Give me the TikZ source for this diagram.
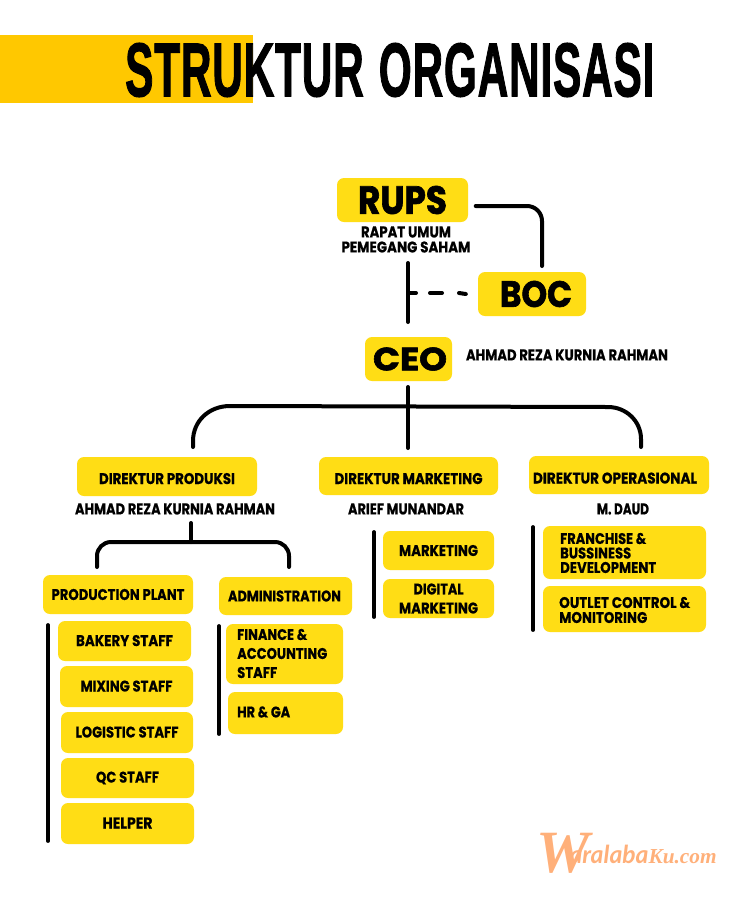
\documentclass[tikz,border=0pt]{standalone}
\usepackage{fontspec}
\setmainfont{Poppins}[BoldFont={Poppins Bold},BoldFeatures={FakeBold=0.5}]
\newfontfamily\heavyfont{Poppins}[BoldFont={Poppins Bold},BoldFeatures={FakeBold=1.8}]
\newfontfamily\titlefont{Liberation Sans}[BoldFont={Liberation Sans Bold},BoldFeatures={FakeBold=1.8}]
\newfontfamily\wmfont{Liberation Serif}
\newfontfamily\wmsans{Lato}
\definecolor{boxy}{HTML}{FFDD15}
\definecolor{bary}{HTML}{FFC800}
\definecolor{peach}{HTML}{FFB07A}
\newcommand\fitt[3]{\resizebox{#1pt}{#2pt}{\bfseries #3}}
\newcommand\fitb[3]{\resizebox{#1pt}{#2pt}{\heavyfont\bfseries #3}}
\newcommand\lowr[2]{\raisebox{-#1pt}[11pt][0pt]{#2}}
\tikzset{
  box/.style={fill=boxy,rounded corners=7pt,inner sep=0pt,text=black},
  label/.style={inner sep=0pt,text=black},
  wire/.style={line width=4pt,line cap=round,black},
  pipe/.style={line width=3.8pt,line cap=round,black},
}
\newcommand\boxat[6]{% name, x0,y0,x1,y1, text
  \node[box,minimum width={(#4-#2)*1pt},minimum height={(#5-#3)*1pt}] (#1) at ({(#2+#4)/2},{(#3+#5)/2}) {#6};}
\begin{document}
\begin{tikzpicture}[x=1pt,y=-1pt]
\useasboundingbox (0,0) rectangle (750,903);
\fill[white] (0,0) rectangle (750,903);
% title
\fill[bary] (0,35) rectangle (253,103);
\node[label,anchor=west] (title) at (125,70) {\resizebox{529pt}{53pt}{\titlefont\bfseries S\kern.02em T\kern.02em R\kern.02em U\kern.02em K\kern.02em T\kern.02em U\kern.02em R\kern.08em\ O\kern.02em R\kern.02em G\kern.02em A\kern.02em N\kern.02em I\kern.02em S\kern.02em A\kern.02em S\kern.02em I}};
% top
\boxat{rups}{337}{178}{468}{222}{\fitb{89}{28}{RUPS}}
\node[label,align=center,font=\fontsize{10}{15}\selectfont] (rupsname) at (406,239.5) {\fitt{90}{11}{RAPAT UMUM}\\\fitt{129}{11}{PEMEGANG SAHAM}};
\boxat{boc}{478}{272}{586}{316}{\hspace*{8pt}\fitb{72}{26}{BOC}}
\boxat{ceo}{365}{337}{452}{381}{\hspace*{3pt}\fitb{74}{23}{CEO}}
\node[label] (ceoname) at (567,355) {\fitt{202}{11}{AHMAD REZA KURNIA RAHMAN}};
% connectors top
\coordinate (rupsr) at ([xshift=7.5pt]rups.east |- 0,206);
\coordinate (bocup) at (542,266);
\coordinate (spineT) at (408,263);
\coordinate (spineB) at (408,322);
\coordinate (spineM) at (408,293);
\coordinate (bocl) at ([xshift=-12pt]boc.west);
\draw[wire,rounded corners=15pt] (rupsr) -- (542,206) -- (bocup);
\draw[wire] (spineT) -- (spineB);
\draw[wire] (spineM) -- (416,293);
\draw[wire] (430,293) -- (442,293);
\draw[wire] (459,293) -- (bocl);
% directors
\boxat{dp}{77}{457}{257}{496}{\lowr{2}{\fitt{136}{11}{DIREKTUR PRODUKSI}}}
\boxat{dm}{319}{457}{498}{495}{\lowr{2.5}{\fitt{148}{11}{DIREKTUR MARKETING}}}
\boxat{dop}{529}{456}{709}{494}{\hspace*{-8pt}\lowr{3}{\fitt{164}{11}{DIREKTUR OPERASIONAL}}}
\node[label] (dpn) at (175,509) {\fitt{200}{11}{AHMAD REZA KURNIA RAHMAN}};
\node[label] (dmn) at (406,509) {\fitt{116}{11}{ARIEF MUNANDAR}};
\node[label] (dopn) at (623,509) {\fitt{52}{11}{M. DAUD}};
% CEO tree
\coordinate (ceod) at (408,387);
\coordinate (dmu) at (408,448);
\coordinate (dpu) at (193,447);
\coordinate (dopu) at (641,447);
\draw[wire] (ceod) -- (dmu);
\draw[wire] (dpu) -- (193,441) .. controls (193,421) and (209,406) .. (230,406) -- (608,407) .. controls (626,407) and (641,421) .. (641,439) -- (dopu);
% production tree
\coordinate (dpd) at (191,523);
\coordinate (pj) at (191,542);
\coordinate (ppu) at (97,567);
\coordinate (adu) at (289,567);
\draw[wire] (dpd) -- (pj);
\draw[wire,rounded corners=14pt] (ppu) -- (97,542) -- (289,542) -- (adu);
\boxat{pp}{43}{575}{193}{614}{\fitt{133}{11}{PRODUCTION PLANT}}
\boxat{ad}{219}{577}{352}{615}{\hspace*{-2pt}\fitt{113}{11}{ADMINISTRATION}}
% production staff
\coordinate (pb1) at (48,625);
\coordinate (pb2) at (48,841);
\draw[pipe] (pb1) -- (pb2);
\boxat{s1}{58}{621}{191}{661}{\lowr{-0.5}{\fitt{97}{11}{BAKERY STAFF}}}
\boxat{s2}{60}{666}{193}{707}{\lowr{-0.5}{\fitt{92}{11}{MIXING STAFF}}}
\boxat{s3}{61}{712}{193}{753}{\lowr{-0.5}{\fitt{103}{11}{LOGISTIC STAFF}}}
\boxat{s4}{61}{758}{194}{798}{\fitt{63}{11}{QC STAFF}}
\boxat{s5}{61}{803}{194}{844}{\lowr{-0.5}{\fitt{50}{11}{HELPER}}}
% admin
\coordinate (ab1) at (219,626);
\coordinate (ab2) at (219,734);
\draw[pipe] (ab1) -- (ab2);
\boxat{f1}{226}{624}{343}{684}{}
\node[label,anchor=west,align=left,font=\fontsize{10}{19}\selectfont] (f1t) at (237,653.5) {\fitt{70}{11}{FINANCE \&}\\\fitt{90}{11}{ACCOUNTING}\\\fitt{40}{11}{STAFF}};
\boxat{f2}{228}{692}{343}{734}{}
\node[label,anchor=west] (f2t) at (237,712) {\fitt{53}{11}{HR \& GA}};
% marketing
\coordinate (mb1) at (374,532);
\coordinate (mb2) at (374,617);
\draw[pipe] (mb1) -- (mb2);
\boxat{m1}{383}{531}{494}{570}{\fitt{79}{11}{MARKETING}}
\boxat{m2}{383}{579}{494}{618}{}
\node[label,align=center,font=\fontsize{10}{19}\selectfont] (m2t) at (438.5,598.5) {\fitt{50}{11}{DIGITAL}\\\fitt{79}{11}{MARKETING}};
% operations
\coordinate (ob1) at (533,527);
\coordinate (ob2) at (533,630);
\draw[pipe] (ob1) -- (ob2);
\boxat{o1}{543}{526}{706}{579}{}
\node[label,anchor=west,align=left,font=\fontsize{10}{14.5}\selectfont] (o1t) at (560,553) {\fitt{86}{11}{FRANCHISE \&}\\\fitt{71}{11}{BUSSINESS}\\\fitt{96}{11}{DEVELOPMENT}};
\boxat{o2}{543}{586}{706}{632}{}
\node[label,anchor=west,align=left,font=\fontsize{10}{15}\selectfont] (o2t) at (559,610) {\fitt{131}{11}{OUTLET CONTROL \&}\\\fitt{88}{11}{MONITORING}};
% watermark
\node[label,anchor=base west,text=peach] (wm) at (536,863) {\raisebox{-9pt}{\wmfont\itshape\bfseries\fontsize{60}{60}\selectfont W}\kern-20pt\resizebox{79pt}{!}{\wmsans\bfseries\itshape aralaba}\resizebox{68pt}{!}{\wmfont\itshape\bfseries Ku.com}};
\end{tikzpicture}
\end{document}
